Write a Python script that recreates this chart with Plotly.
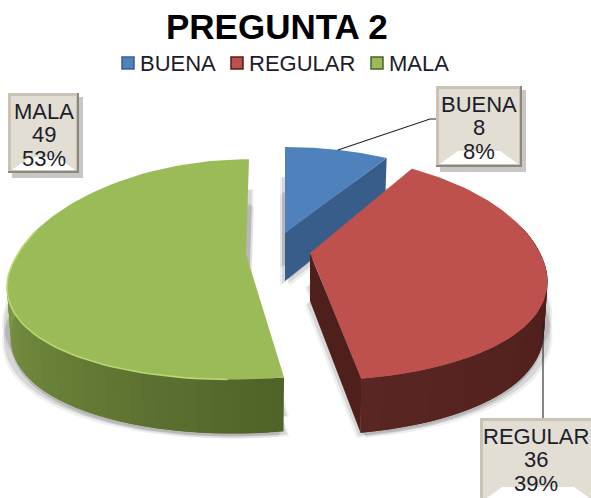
import numpy as np
import plotly.graph_objects as go

# ---- data ----
categories = ["BUENA", "REGULAR", "MALA"]
counts = [8, 36, 49]
percent_labels = ["8%", "39%", "53%"]
title_text = "PREGUNTA 2"

# ---- styling ----
TOP = ["#4f81bd", "#be504d", "#9bbb59"]
CUT = ["#385d8a", "#4f1f1c", "#4f6228"]
WALL_DARK = ["#385d8a", "#4c1d1a", "#4f6228"]
WALL_LIGHT = ["#385d8a", "#5a2623", "#8ca84f"]
FONT = "Liberation Sans, Arial, sans-serif"

# projected geometry of each exploded slice
GEO = [
    dict(ax=285, ay=233, a=240, b=98, sf=0, sb=0),
    dict(ax=310, ay=253, a=230, b=110, sf=0, sb=5),
    dict(ax=246, ay=254, a=228, b=108, sf=-13, sb=3),
]
KX, KY = 0.25, 0.14
BOTTOM_SCALE = 0.985
BOXES = [(436, 86, 522, 167), (480, 418, 596, 503), (8, 93, 79, 173)]
LEG_SQ = [122, 231, 371]
LEG_TX = [140, 249, 389]
LEADERS = [([338, 430, 436], [150, 119, 119]), ([543, 543], [323, 418])]

fractions = np.array(counts, dtype=float) / sum(counts)
edges = np.concatenate([[0], np.cumsum(fractions)]) * 2 * np.pi


def project(th, g):
    X, Y = np.sin(th), -np.cos(th)
    s = 1 / (1 - KX * Y)
    shear = np.where(Y > 0, g["sf"] * Y, -g["sb"] * Y)
    return g["ax"] + g["a"] * X * s + shear, g["ay"] + g["b"] * Y / (1 - KY * Y)


def wall_h(th):
    return 48 - 6 * np.cos(th)


def poly(x, y, color):
    return go.Scatter(x=list(x), y=list(y), mode="lines", fill="toself", fillcolor=color,
                      line=dict(color=color, width=0), hoverinfo="skip", showlegend=False)


def lerp(c0, c1, t):
    a = [int(c0[i:i + 2], 16) for i in (1, 3, 5)]
    b = [int(c1[i:i + 2], 16) for i in (1, 3, 5)]
    return "rgb(%d,%d,%d)" % tuple(round(a[k] + (b[k] - a[k]) * t) for k in range(3))


fig = go.Figure()
for i, g in enumerate(GEO):
    th = np.linspace(edges[i], edges[i + 1], 90)
    rx, ry = project(th, g)
    fx = np.r_[g["ax"], rx, g["ax"]]
    fy = np.r_[g["ay"], ry, g["ay"]]
    hh = np.r_[wall_h(np.pi / 2), wall_h(th), wall_h(np.pi / 2)]

    # soft shadow below the extruded slice
    for dx, dy, alpha in [(-5, 5, .07), (5, 5, .07), (-3, 3, .12), (3, 3, .12)]:
        fig.add_trace(poly(fx + dx, fy + hh + dy, "rgba(40,40,40,%.2f)" % alpha))
        fig.add_trace(poly(fx + dx, fy + hh * .72, "rgba(40,40,40,%.2f)" % alpha))

    # straight cut face turned to the viewer
    if i < 2:
        ex, ey = rx[-1], ry[-1]
        eh = wall_h(th[-1])
        bx = g["ax"] + (ex - g["ax"]) * BOTTOM_SCALE
        fig.add_trace(poly([g["ax"], ex, bx, g["ax"]],
                           [g["ay"], ey, ey + eh, g["ay"] + wall_h(np.pi / 2)], CUT[i]))

    # rim wall, shaded by angle; each band overlaps the next so no seams show
    segs = np.linspace(edges[i], edges[i + 1], 70)
    for n in range(len(segs) - 1):
        t0 = segs[n]
        t1 = segs[min(n + 2, len(segs) - 1)]
        mid = (segs[n] + segs[n + 1]) / 2
        if np.cos(mid) > 0.25:
            continue
        tt = np.linspace(t0, t1, 4)
        sx, sy = project(tt, g)
        bx = g["ax"] + (sx - g["ax"]) * BOTTOM_SCALE
        hv = wall_h(tt)
        # darkest toward the front, lightest toward the far side
        t = np.clip((mid - np.radians(170)) / np.radians(120), 0, 1) if i == 2 else \
            np.clip((mid - np.radians(90)) / np.radians(80), 0, 1)
        fig.add_trace(poly(np.r_[sx, bx[::-1]], np.r_[sy, (sy + hv)[::-1]],
                           lerp(WALL_DARK[i], WALL_LIGHT[i], t)))

    # top face
    fig.add_trace(poly(fx, fy, TOP[i]))

    # light edge along the front of the green rim
    if i == 2:
        keep = (th > np.radians(180)) & (th < np.radians(285))
        fig.add_trace(go.Scatter(x=rx[keep], y=ry[keep], mode="lines",
                                 line=dict(color="#b9d872", width=1.6),
                                 hoverinfo="skip", showlegend=False))

# leader lines
for lx, ly in LEADERS:
    fig.add_trace(go.Scatter(x=lx, y=ly, mode="lines", line=dict(color="#222222", width=1.1),
                             hoverinfo="skip", showlegend=False))

shapes, notes = [], []
for i, (x0, y0, x1, y1) in enumerate(BOXES):
    shapes += [
        dict(type="rect", x0=x0 + 4, y0=y0 + 4, x1=x1 + 4, y1=y1 + 5,
             fillcolor="rgba(70,70,70,.30)", line_width=0, layer="above"),
        dict(type="rect", x0=x0, y0=y0, x1=x1, y1=y1, fillcolor="#8d887a", line_width=0, layer="above"),
        dict(type="rect", x0=x0, y0=y0, x1=x1 - 2, y1=y1 - 2, fillcolor="#c8c3b5", line_width=0, layer="above"),
        dict(type="rect", x0=x0 + 3, y0=y0 + 3, x1=x1 - 3, y1=y1 - 3, fillcolor="#e2ded4", line_width=0, layer="above"),
        dict(type="path", path=f"M {x0 + 4} {y1 - 3} L {x0 + 22} {y1 - 16} L {x1 - 22} {y1 - 16} L {x1 - 4} {y1 - 3} Z",
             fillcolor="#ffffff", line_width=0, layer="above"),
    ]
    lines = [categories[i], str(counts[i]), percent_labels[i]]
    for k, text in enumerate(lines):
        notes.append(dict(x=(x0 + min(x1, 591)) / 2, y=y0 + 18 + 23.5 * k, text=text, showarrow=False,
                          xanchor="center", yanchor="middle",
                          font=dict(family=FONT, size=22, color="#1c1c2a")))

# legend entries
for i, name in enumerate(categories):
    sx = LEG_SQ[i]
    shapes.append(dict(type="rect", x0=sx, y0=57, x1=sx + 12, y1=69, fillcolor=TOP[i],
                       line=dict(color=CUT[i], width=1.5), layer="above"))
    notes.append(dict(x=LEG_TX[i], y=63, text=name, showarrow=False, xanchor="left", yanchor="middle",
                      xshift=-2, font=dict(family=FONT, size=22, color="#1c1c2a")))

notes.append(dict(x=276.5, y=26, text=f"<b>{title_text}</b>", showarrow=False, xanchor="center", yanchor="middle",
                  font=dict(family=FONT, size=35, color="#000000")))

fig.update_layout(
    width=591, height=498, margin=dict(l=0, r=0, t=0, b=0),
    paper_bgcolor="white", plot_bgcolor="white", showlegend=False,
    xaxis=dict(range=[0, 591], visible=False, fixedrange=True),
    yaxis=dict(range=[498, 0], visible=False, fixedrange=True),
    shapes=shapes, annotations=notes,
)
fig.write_html("out.html", config={"displayModeBar": False},
               post_script="document.body.style.margin='0';")
